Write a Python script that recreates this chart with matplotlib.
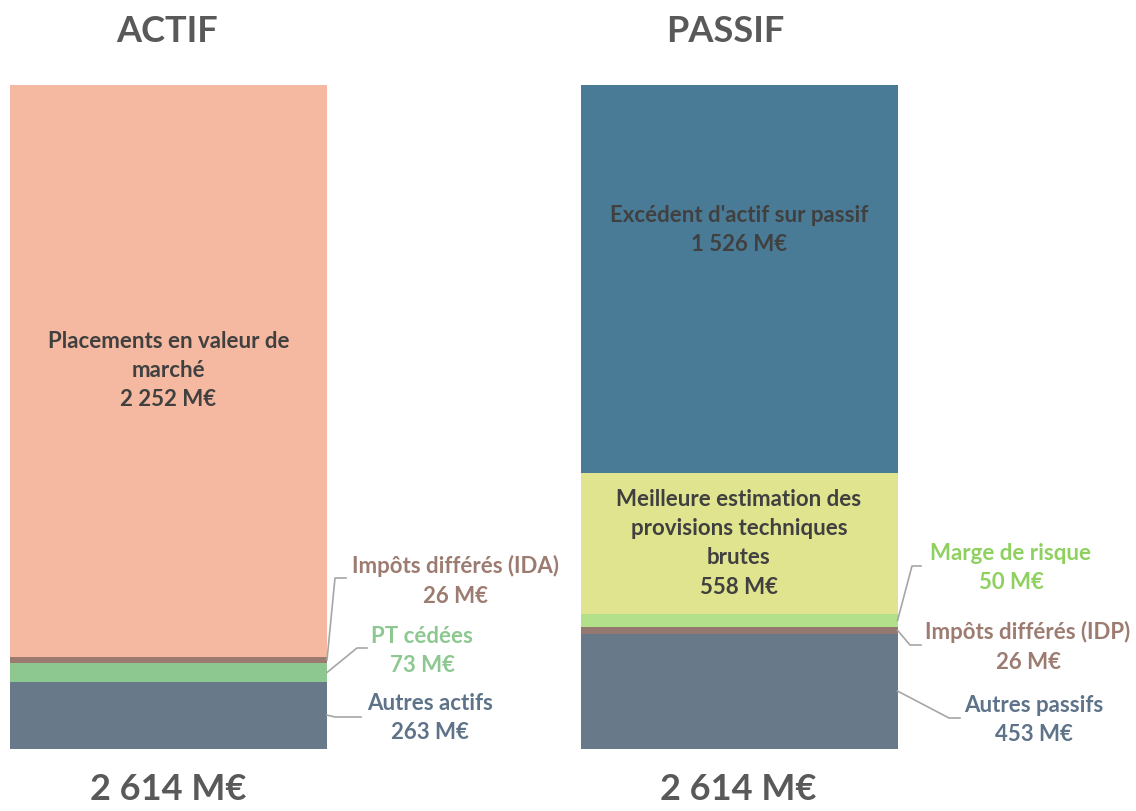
import numpy as np
import matplotlib.pyplot as plt

# Données (M€)
actif_labels = ['Autres actifs', 'PT cédées', 'Impôts différés (IDA)',
                'Placements en valeur de\nmarché']
actif_values = [263, 73, 26, 2252]
passif_labels = ['Autres passifs', 'Impôts différés (IDP)', 'Marge de risque',
                 'Meilleure estimation des\nprovisions techniques\nbrutes',
                 "Excédent d'actif sur passif"]
passif_values = [453, 26, 50, 558, 1526]
titres = ['ACTIF', 'PASSIF']
totaux = [2614, 2614]

actif_colors = ['#687A8A', '#8DC891', '#9B7B70', '#F4B9A0']
passif_colors = ['#687A8A', '#957870', '#B3E08A', '#E0E48E', '#4A7B96']
actif_txt = ['#5E7389', '#8DC891', '#9C7B70', '#404040']
passif_txt = ['#5E7389', '#9C7B70', '#8ED15F', '#404040', '#404040']


def fmt(v):
    return f'{v:,} M€'.replace(',', ' ')


# conversion pixels -> coordonnées des axes (mise en page)
def px2x(px):
    return (px - 168.5) / 570.5


def py2y(py):
    return (748.5 - py) * 2614 / 663.5


def main():
    plt.rcParams['font.family'] = ['Lato', 'DejaVu Sans']
    fig = plt.figure(figsize=(11.36, 8.11), dpi=100)
    ax = fig.add_axes([0, 0, 1, 1])
    ax.set_xlim(px2x(0), px2x(1136))
    ax.set_ylim(py2y(811), py2y(0))
    ax.axis('off')

    width = 317 / 570.5
    bars = [(0, actif_values, actif_colors), (1, passif_values, passif_colors)]
    mids = []
    for x, vals, cols in bars:
        bottoms = np.concatenate([[0], np.cumsum(vals)[:-1]])
        ax.bar(x, vals, bottom=bottoms, width=width, color=cols, edgecolor='none')
        mids.append(bottoms + np.array(vals) / 2)

    edge = [0 + width / 2, 1 + width / 2]
    gris = '#A6A6A6'
    fs = 16
    ls = 1.48

    # étiquettes extérieures : (barre, index, coude px, fin px, texte px)
    ext = [
        (0, 2, (335, 578), (346, 578), (455, 581)),
        (0, 1, (357, 648), (367, 648), (422, 651)),
        (0, 0, (335, 717), (361, 717), (430, 718)),
        (1, 2, (912, 566), (921, 566), (1011, 568)),
        (1, 1, (910, 645), (921, 645), (1028, 647)),
        (1, 0, (949, 718), (960, 718), (1034, 720)),
    ]
    for b, i, elb, end, tp in ext:
        if b == 0:
            lab, val, col = actif_labels[i], actif_values[i], actif_txt[i]
        else:
            lab, val, col = passif_labels[i], passif_values[i], passif_txt[i]
        ym = mids[b][i]
        ax.plot([edge[b], px2x(elb[0]), px2x(end[0])],
                [ym, py2y(elb[1]), py2y(end[1])], color=gris, lw=1.2)
        ax.text(px2x(tp[0]), py2y(tp[1]), f'{lab}\n{fmt(val)}', ha='center',
                va='center', fontsize=fs, fontweight='bold', color=col,
                linespacing=ls)

    # étiquettes intérieures
    ax.text(0, mids[0][3], f'{actif_labels[3]}\n{fmt(actif_values[3])}',
            ha='center', va='center', fontsize=fs, fontweight='bold',
            color='#404040', linespacing=ls)
    ax.text(1, mids[1][3], f'{passif_labels[3]}\n{fmt(passif_values[3])}',
            ha='center', va='center', fontsize=fs, fontweight='bold',
            color='#404040', linespacing=ls)
    ax.text(1, py2y(230), f'{passif_labels[4]}\n{fmt(passif_values[4])}',
            ha='center', va='center', fontsize=fs, fontweight='bold',
            color='#404040', linespacing=ls)

    # titres et totaux
    for t, pxt in zip(titres, [167, 725]):
        ax.text(px2x(pxt), py2y(31), t, ha='center', va='center', fontsize=26,
                fontweight='bold', color='#595959')
    for tot, pxt in zip(totaux, [168, 738]):
        ax.text(px2x(pxt), py2y(790), fmt(tot), ha='center', va='center',
                fontsize=26, fontweight='bold', color='#595959')

    fig.savefig('out.png', dpi=100)


if __name__ == "__main__":
    main()
